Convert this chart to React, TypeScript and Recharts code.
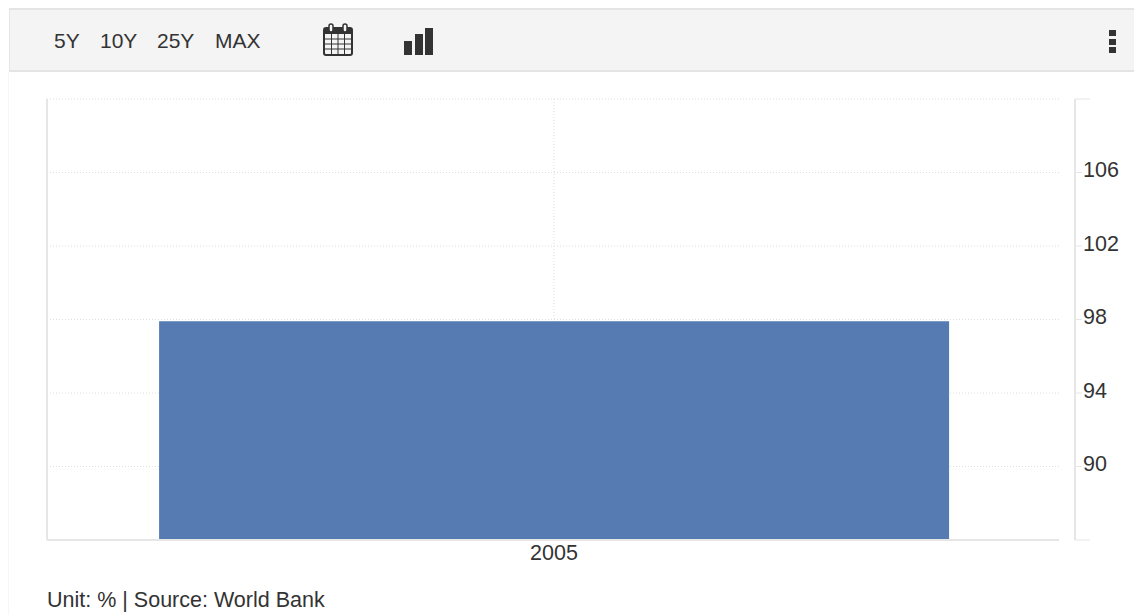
import { BarChart, Bar, XAxis, YAxis, CartesianGrid } from 'recharts'

const years = ['2005']
const values = [97.9]
const axisTicks = [86, 90, 94, 98, 102, 106, 110]
const unlabelledTicks = [86, 110]
const rangeButtons = [
  { label: '5Y', left: 54 },
  { label: '10Y', left: 100 },
  { label: '25Y', left: 157 },
  { label: 'MAX', left: 215 },
]

const chartData = years.map((year, i) => ({ year, value: values[i] }))

const FONT = '"Liberation Sans", Arial, sans-serif'
const LINE = '#e6e6e6'

// Right axis tick: short mark plus label, the end ticks run longer and carry no text
function ValueTick({ x, y, payload }: any) {
  const isEnd = unlabelledTicks.includes(payload.value)
  return (
    <g>
      <line x1={x} x2={x + (isEnd ? 15 : 7)} y1={y} y2={y} stroke={LINE} />
      {!isEnd && (
        <text x={x + 8} y={y - 3} dy="0.35em" textAnchor="start" fill="#333" fontSize={21.5} fontFamily={FONT}>
          {payload.value}
        </text>
      )}
    </g>
  )
}

function CalendarIcon() {
  return (
    <svg width={32} height={34} style={{ position: 'absolute', left: 323, top: 23 }}>
      <rect x={1} y={5} width={28} height={27} rx={2} fill="none" stroke="#333" strokeWidth={2} />
      <rect x={1} y={5} width={28} height={6} fill="#333" />
      {[8.5, 15, 21.5].map(x => (
        <line key={x} x1={x} x2={x} y1={11} y2={31} stroke="#333" />
      ))}
      {[16, 21, 26].map(y => (
        <line key={y} x1={2} x2={28} y1={y} y2={y} stroke="#333" />
      ))}
      {[8, 22].map(x => (
        <rect key={x} x={x - 2} y={1} width={4} height={8} rx={2} fill="#f4f4f4" stroke="#333" strokeWidth={1.5} />
      ))}
    </svg>
  )
}

function BarsIcon() {
  return (
    <svg width={30} height={30} style={{ position: 'absolute', left: 404, top: 27 }}>
      <rect x={0} y={14} width={8} height={14} fill="#333" />
      <rect x={11} y={7} width={8} height={21} fill="#333" />
      <rect x={21} y={1} width={8} height={27} fill="#333" />
    </svg>
  )
}

function Toolbar() {
  return (
    <div
      style={{
        position: 'absolute',
        left: 9,
        top: 8,
        width: 1125,
        height: 64,
        boxSizing: 'border-box',
        background: '#f4f4f4',
        borderTop: '2px solid #e4e4e4',
        borderBottom: '2px solid #e4e4e4',
        borderLeft: '1px solid #e4e4e4',
      }}
    />
  )
}

export default function App() {
  return (
    <div style={{ position: 'absolute', left: 0, top: 0, width: 1134, height: 615, background: '#fff', overflow: 'hidden', fontFamily: FONT }}>
      <div style={{ position: 'absolute', left: 8, top: 72, width: 1, height: 543, background: '#f6f6f6' }} />
      <Toolbar />
      {rangeButtons.map(b => (
        <span key={b.label} style={{ position: 'absolute', left: b.left, top: 29, fontSize: 21, lineHeight: '24px', color: '#333' }}>
          {b.label}
        </span>
      ))}
      <CalendarIcon />
      <BarsIcon />
      <div style={{ position: 'absolute', left: 1109, top: 30, width: 8, height: 23, display: 'flex', flexDirection: 'column', justifyContent: 'space-between' }}>
        {[0, 1, 2].map(i => (
          <div key={i} style={{ width: 7, height: 6, background: '#333' }} />
        ))}
      </div>

      <div style={{ position: 'absolute', left: 0, top: 0 }}>
        <BarChart width={1134} height={615} data={chartData} margin={{ top: 99, right: 0, bottom: 45, left: 0 }} barCategoryGap="10.9%">
          <CartesianGrid yAxisId="value" stroke="#dedede" strokeDasharray="1 2" syncWithTicks />
          <XAxis
            dataKey="year"
            height={30}
            padding={{ left: 2, right: 0 }}
            axisLine={{ stroke: LINE, strokeWidth: 2 }}
            tickLine={false}
            tickMargin={-1}
            tick={{ fill: '#333', fontSize: 21.5, fontFamily: FONT }}
          />
          <YAxis yAxisId="left" orientation="left" width={47} domain={[86, 110]} ticks={[]} tick={false} tickLine={false} axisLine={{ stroke: LINE, strokeWidth: 2 }} />
          <YAxis yAxisId="gap" orientation="right" width={16} domain={[86, 110]} ticks={[]} tick={false} tickLine={false} axisLine={false} />
          <YAxis
            yAxisId="value"
            orientation="right"
            width={59}
            domain={[86, 110]}
            ticks={axisTicks}
            interval={0}
            tickSize={0}
            tickMargin={0}
            tickLine={false}
            axisLine={{ stroke: LINE, strokeWidth: 2 }}
            tick={<ValueTick />}
          />
          <Bar yAxisId="value" dataKey="value" fill="#557bb2" isAnimationActive={false} />
        </BarChart>
      </div>

      <div style={{ position: 'absolute', left: 47, top: 588, fontSize: 21.5, lineHeight: '25px', color: '#333' }}>
        Unit: % | Source: World Bank
      </div>
    </div>
  )
}
